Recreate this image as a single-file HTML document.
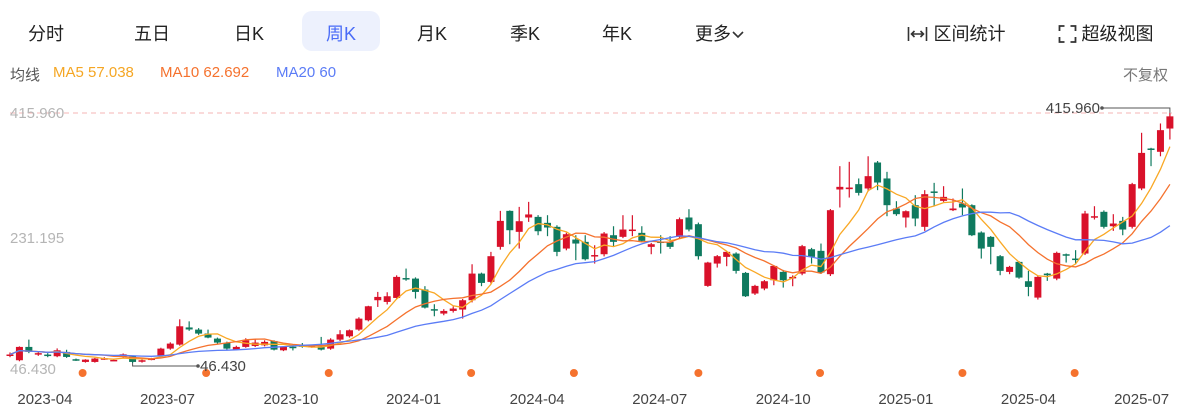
<!DOCTYPE html>
<html><head><meta charset="utf-8">
<style>
body{margin:0;background:#fff;width:1193px;height:416px;overflow:hidden;font-family:"Liberation Sans","Noto Sans CJK SC",sans-serif;position:relative}
.tab{position:absolute;top:20px;font-size:18px;color:#222;transform:translateX(-50%);white-space:nowrap}
.pill{position:absolute;left:302px;top:11px;width:78px;height:40px;border-radius:10px;background:#edf1fd}
.lg{position:absolute;top:64px;font-size:15px;white-space:nowrap}
</style></head><body>
<div class="pill"></div>
<div class="tab" style="left:46px">分时</div>
<div class="tab" style="left:152px">五日</div>
<div class="tab" style="left:249px">日K</div>
<div class="tab" style="left:341px;color:#4a6cf7">周K</div>
<div class="tab" style="left:432px">月K</div>
<div class="tab" style="left:525px">季K</div>
<div class="tab" style="left:617px">年K</div>
<div class="tab" style="left:720px">更多<svg width="14" height="10" viewBox="0 0 14 10"><path d="M2 2 L7 7 L12 2" fill="none" stroke="#333" stroke-width="1.6"/></svg></div>
<div class="tab" style="left:956px"><svg width="22" height="16" viewBox="0 0 22 16" style="vertical-align:-2px"><path d="M2 1V15M20 1V15M5 8H17M8 5L5 8L8 11M14 5L17 8L14 11" fill="none" stroke="#333" stroke-width="1.6"/></svg> 区间统计</div>
<div class="tab" style="left:1106px"><svg width="18" height="18" viewBox="0 0 18 18" style="vertical-align:-3px"><path d="M1 6V1H6M12 1H17V6M17 12V17H12M6 17H1V12" fill="none" stroke="#333" stroke-width="1.8"/></svg> 超级视图</div>
<div class="lg" style="left:10px;color:#555">均线</div>
<div class="lg" style="left:53px;color:#f5a623">MA5 57.038</div>
<div class="lg" style="left:160px;color:#f5722e">MA10 62.692</div>
<div class="lg" style="left:276px;color:#5b7cf6">MA20 60</div>
<div class="lg" style="left:1123px;color:#777">不复权</div>
<svg id="chart" width="1193" height="416" style="position:absolute;left:0;top:0"></svg>
<script>
const opens=[58,50.5,70.2,59,58.9,56.4,62.8,52,48,48,52.5,50.5,55.4,56.4,49.5,52,56.4,67.7,73.6,99,95.8,90,82.5,76.1,66.2,70.2,71.6,72.6,79,65.2,70.5,72.6,71,71.2,67.7,81,85.9,95.8,109.6,139.2,136.7,142.6,172,171.2,155,126,119.5,123.4,125.4,139.2,178.6,166.3,218.1,271.3,240.3,261.5,262.4,253.6,247.7,215.6,228.9,225.5,204,207.2,235.3,232.9,241.7,238.8,218.1,226,225.5,232.9,261.5,251.6,160.4,193.4,203.3,208.2,179.6,149.1,156.5,168.8,181.1,172.5,178.6,214.6,212.2,177.7,302.9,303.4,310.8,304.4,342.8,319.2,274.8,261.5,279.7,247.7,300,286.1,272.3,282.2,279.7,239.3,232.9,204.3,181.1,195.9,167.3,143.1,178.6,171.2,207.2,200.8,208.2,261.5,269.9,248.6,256.5,247.7,304.4,363.5,358.6,393];
const highs=[62,71,81,63,61,68,66,53,52,54,55,52,60.5,57,51.5,54,69,77,111,108,98,95.8,84,78,72,83,82,80,80,71,74,76,73,85,83,95,96,114,131,151.5,151,176,186,173,160,133.3,126,130,141,192.4,180,210.7,271.3,272,277.2,284.6,265,264.9,250,239,235.3,235.3,220.5,240,248.6,264.9,264.9,248.6,224,235.3,233.9,261.5,273.8,254,196,206,212,210,181,162,169,191,184,176,221,216.6,223,274,337.4,343.8,319.2,352,345,329,285.6,272,294.5,301.9,312.7,307.8,289.6,304.4,281,241,234,206,190,197,182.6,175,179.6,211,208.2,213.2,271.3,278.2,272,266.4,262.4,312.7,386.7,364.5,400.5,415.96];
const lows=[55,49,61,57,55,55,54,49.5,47,47,51,49.5,54,46.43,47,50.5,55,66,72,94,88,83,75,66,65,69,70,71,65,64,65,69,69,65,66,79,84,94,108,129.3,133,141,168,141.7,127,115.5,117,121,112.1,136,160,164,214,222,215.6,255,235.3,233.9,204.3,213,198.4,198,193.4,204,219.1,231,233.9,225,207.2,208.2,215,231,241,199.3,159,187.5,189.5,178.6,144,147,154,161.4,157.9,159.9,176.2,193.4,178,175,276.3,291,294,300,301.9,263.4,264,246.7,248.6,241.7,278.2,284.6,271,264.9,234,200.8,192.4,176.2,177.7,171,145.1,140.2,167.8,168.8,194.9,192.4,206,258.5,245.2,241.7,235.3,245.2,301.9,337.4,352,376.8];
const closes=[59,70.2,62.8,61,57.9,65.2,55.4,51,51.4,53,53.5,51,59.3,48,50.5,53,67.7,75.1,100.7,96,89.9,84,76.6,67.7,70.2,80,76.6,77.6,66.2,70.2,70,72,71.6,66.2,81,88.9,94.8,112,130.3,144.1,145.1,173.7,171,151.5,128.3,124.9,123.4,126.9,139.2,178.6,164.8,204.3,256.5,242.7,256,266,241.2,246.7,210.7,236.8,223,199.8,206,237.8,225.5,243.7,243.7,227,222,225,218.1,259,243.7,204.3,194.9,204.3,210.7,182.6,145.1,160.4,167.3,189.9,168.8,173.7,219.1,203.3,180.1,272.3,306.8,305.8,297.9,322.6,313.2,279.7,266.4,270.8,260,296,299,292,274.8,276.3,235.3,215.6,218.1,182.6,188.5,172.7,158.9,173.7,176.2,209.2,205.8,199.3,267.4,263.4,247.7,252.6,243.7,310.8,357,362,390.6,411];
const xTickLabels=["2023-04","2023-07","2023-10","2024-01","2024-04","2024-07","2024-10","2025-01","2025-04","2025-07"];
const xTickIndex=[3.7,16.7,29.8,42.8,55.9,68.9,82,95,108,120];
const yTickValues=[415.96,231.195,46.43];
const eventIndex=[7.7,20.8,33.8,48.9,59.8,73,85.9,101,112.9];

const svg=document.getElementById('chart');
const NS='http://www.w3.org/2000/svg';
const X0=10,DX=9.43,YTOP=113,YBOT=363,PMAX=415.96,PMIN=46.43;
const xs=i=>X0+DX*i;
const ys=p=>YTOP+(PMAX-p)/(PMAX-PMIN)*(YBOT-YTOP);
function mk(tag,attrs,parent){const e=document.createElementNS(NS,tag);for(const k in attrs)e.setAttribute(k,attrs[k]);(parent||svg).appendChild(e);return e;}

const grid=mk('line',{x1:10,x2:1172,y1:ys(PMAX),y2:ys(PMAX),stroke:'#f4b4b4','stroke-dasharray':'5,4','stroke-width':1});



yTickValues.forEach((v,k)=>{
  const t=mk('text',{x:10,y:k===2?ys(v)+11:ys(v)+5,'font-size':15,fill:'#b5b5b5'});
  t.textContent=v.toFixed(3);
  
  
});
xTickLabels.forEach((l,k)=>{
  const t=mk('text',{x:xs(xTickIndex[k]),y:404,'font-size':15,fill:'#444','text-anchor':'middle'});
  t.textContent=l;
  
  
});
eventIndex.forEach(i=>{
  const c=mk('circle',{cx:xs(i),cy:373,r:4,fill:'#f5722e'});
  
  
});

for(let i=0;i<closes.length;i++){
  const up=closes[i]>=opens[i];
  const col=up?'#d9112a':'#0f7a5f';
  const g=mk('g',{});
  
  
  const x=xs(i);
  mk('line',{x1:x,x2:x,y1:ys(highs[i]),y2:ys(lows[i]),stroke:col,'stroke-width':1.2},g);
  const yt=ys(Math.max(opens[i],closes[i])),yb=ys(Math.min(opens[i],closes[i]));
  mk('rect',{x:x-3.5,y:yt,width:7,height:Math.max(1.5,yb-yt),fill:col},g);
}

function ma(n){return closes.map((_,i)=>{const s=Math.max(0,i-n+1);let t=0;for(let j=s;j<=i;j++)t+=closes[j];return t/(i-s+1);});}
[[5,'#f9a825','ma5-line'],[10,'#f5722e','ma10-line'],[20,'#5b7cf6','ma20-line']].forEach(([n,c,name])=>{
  const v=ma(n);
  const p=mk('path',{d:v.map((y,i)=>(i?'L':'M')+xs(i).toFixed(1)+' '+ys(y).toFixed(1)).join(''),fill:'none',stroke:c,'stroke-width':1.3});
  
  
});

let iMax=highs.indexOf(Math.max(...highs)),iMin=lows.indexOf(Math.min(...lows));
const ma1=mk('path',{d:`M${xs(iMax)} ${ys(highs[iMax])}V108H1102`,fill:'none',stroke:'#555','stroke-width':1});


mk('circle',{cx:1102,cy:108,r:1.8,fill:'#555'});
const mt=mk('text',{x:1100,y:113,'font-size':15,fill:'#444','text-anchor':'end'});
mt.textContent=highs[iMax].toFixed(3);


const mn=mk('path',{d:`M${xs(iMin)} ${ys(lows[iMin])}V366H198`,fill:'none',stroke:'#555','stroke-width':1});


mk('circle',{cx:198,cy:366,r:1.8,fill:'#555'});
const nt=mk('text',{x:200,y:371,'font-size':15,fill:'#444'});
nt.textContent=lows[iMin].toFixed(3);


</script>
</body></html>
